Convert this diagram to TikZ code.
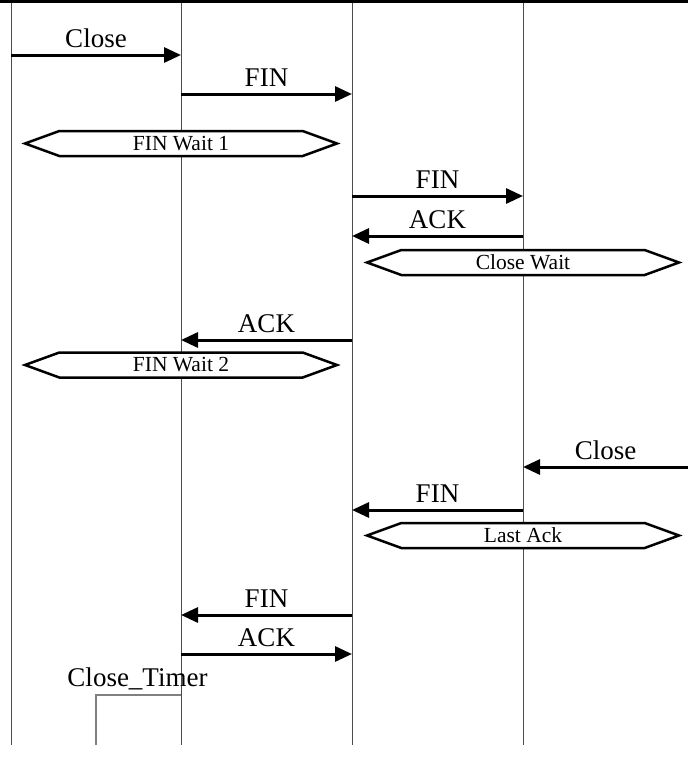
\documentclass[tikz,border=0pt]{standalone}
\usepackage{fontspec}
\setmainfont{Liberation Serif}
\usetikzlibrary{arrows.meta,shapes.symbols}

\begin{document}
\begin{tikzpicture}[x=1pt, y=-1pt,
  life/.style={gray!60!black, line width=1pt},
  msg/.style={line width=3pt, -{Triangle[length=17pt,width=15pt]}},
  lbl/.style={anchor=base, yshift=8pt, font=\fontsize{27}{32}\selectfont},
  state/.style={signal, signal to=east and west, signal pointer angle=40, draw, fill=white,
    line width=2.5pt, minimum width=312pt, minimum height=25pt, inner sep=0pt,
    font=\fontsize{21.5}{25}\selectfont}]
  \useasboundingbox (0,0) rectangle (688,772);
  % Lifelines
  \coordinate (appA) at (11,0);  \coordinate (appA end) at (11,745);
  \coordinate (tcpA) at (181,0); \coordinate (tcpA end) at (181,745);
  \coordinate (tcpB) at (352,0); \coordinate (tcpB end) at (352,745);
  \coordinate (appB) at (523,0); \coordinate (appB end) at (523,745);
  \draw[life] (appA) -- (appA end);
  \draw[life] (tcpA) -- (tcpA end);
  \draw[life] (tcpB) -- (tcpB end);
  \draw[life] (appB) -- (appB end);
  \draw[line width=3pt] (0,1.5) -- (688,1.5);
  % Active close
  \coordinate (close1 s) at (11,55);   \coordinate (close1 e) at (181,55);
  \coordinate (fin1 s) at (181,94);    \coordinate (fin1 e) at (352,94);
  \draw[msg] (close1 s) -- (close1 e) node[midway, lbl] {Close};
  \draw[msg] (fin1 s) -- (fin1 e) node[midway, lbl] {FIN};
  \node[state] (wait1) at (181,143.5) {FIN Wait 1};
  % Passive side
  \coordinate (fin2 s) at (352,196);   \coordinate (fin2 e) at (523,196);
  \coordinate (ack1 s) at (523,236);   \coordinate (ack1 e) at (352,236);
  \draw[msg] (fin2 s) -- (fin2 e) node[midway, lbl] {FIN};
  \draw[msg] (ack1 s) -- (ack1 e) node[midway, lbl] {ACK};
  \node[state] (closewait) at (523,262.5) {Close Wait};
  \coordinate (ack2 s) at (352,340);   \coordinate (ack2 e) at (181,340);
  \draw[msg] (ack2 s) -- (ack2 e) node[midway, lbl] {ACK};
  \node[state] (wait2) at (181,365) {FIN Wait 2};
  % Passive close
  \coordinate (close2 s) at (688,467); \coordinate (close2 e) at (523,467);
  \coordinate (fin3 s) at (523,510);   \coordinate (fin3 e) at (352,510);
  \draw[msg] (close2 s) -- (close2 e) node[midway, lbl] {Close};
  \draw[msg] (fin3 s) -- (fin3 e) node[midway, lbl] {FIN};
  \node[state] (lastack) at (523,535.5) {Last Ack};
  \coordinate (fin4 s) at (352,615);   \coordinate (fin4 e) at (181,615);
  \coordinate (ack3 s) at (181,654);   \coordinate (ack3 e) at (352,654);
  \draw[msg] (fin4 s) -- (fin4 e) node[midway, lbl] {FIN};
  \draw[msg] (ack3 s) -- (ack3 e) node[midway, lbl] {ACK};
  % Timer
  \node[anchor=base, font=\fontsize{27}{32}\selectfont] (timer) at (137.5,686) {Close\_Timer};
  \coordinate (timer a) at (96,745); \coordinate (timer b) at (96,695); \coordinate (timer c) at (181,695);
  \draw[gray, line width=1.5pt] (timer a) -- (timer b) -- (timer c);
\end{tikzpicture}
\end{document}
